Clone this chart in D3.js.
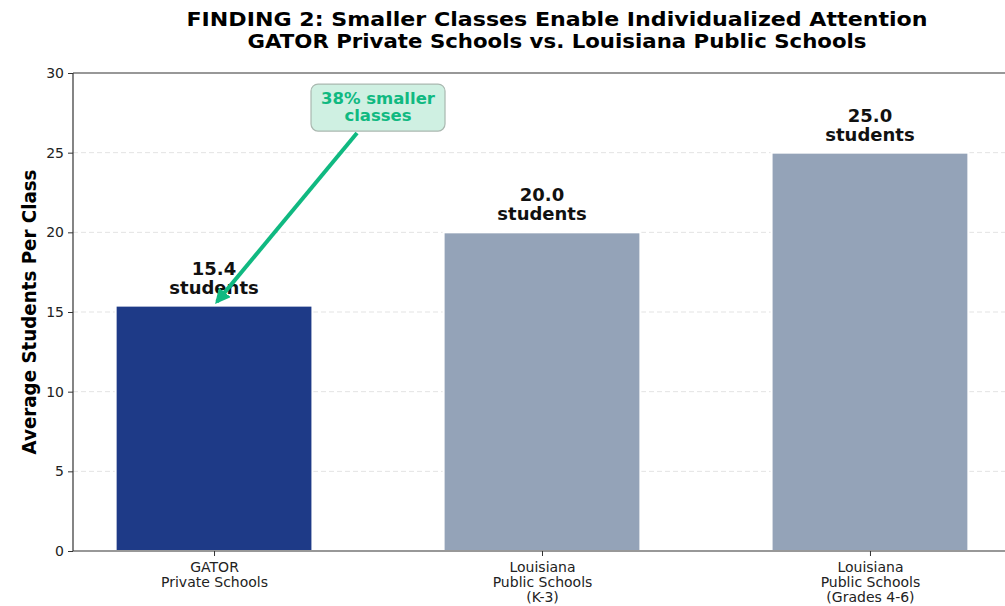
<!DOCTYPE html>
<html><head><meta charset="utf-8">
<script src="https://cdn.jsdelivr.net/npm/d3@7"></script>
<style>body{margin:0;background:#fff}svg{display:block}text{font-family:"DejaVu Sans",sans-serif}</style>
</head><body><svg id="c" width="1005" height="606"></svg>
<script>
const categories = [["GATOR","Private Schools"],["Louisiana","Public Schools","(K-3)"],["Louisiana","Public Schools","(Grades 4-6)"]];
const values = [15.4, 20.0, 25.0];
const valueLabels = ["15.4","20.0","25.0"];
const barColors = ["#1e3a87","#94a3b8","#94a3b8"];
const yTicks = [0,5,10,15,20,25,30];
const titleLines = ["FINDING 2: Smaller Classes Enable Individualized Attention","GATOR Private Schools vs. Louisiana Public Schools"];
const annotation = {text:["38% smaller","classes"], from:[0.5,27.8], to:[0,15.4]};

const svg = d3.select("#c");
const x = d3.scaleLinear().domain([-0.43, 2.43]).range([73, 1011]);
const y = d3.scaleLinear().domain([0, 30]).range([551, 73]);
const bw = 0.6;

// grid
svg.append("g").selectAll("line").data(yTicks.filter(t=>t>0&&t<30)).join("line")
  .attr("x1",73).attr("x2",1011).attr("y1",d=>y(d)).attr("y2",d=>y(d))
  .attr("stroke","#e3e3e3").attr("stroke-width",1).attr("stroke-dasharray","5,3");

// bars
svg.append("g").selectAll("rect").data(values).join("rect")
  .attr("x",(d,i)=>x(i-bw/2)).attr("width",x(bw)-x(0))
  .attr("y",d=>y(d)).attr("height",d=>y(0)-y(d))
  .attr("fill",(d,i)=>barColors[i]).attr("stroke","#fff").attr("stroke-width",2);

// axes
const ya = svg.append("g").attr("transform","translate(73,0)")
  .call(d3.axisLeft(y).tickValues(yTicks).tickSize(5).tickPadding(4));
ya.select(".domain").remove();
ya.selectAll("text").attr("font-size",14).attr("fill","#222").attr("font-family","DejaVu Sans");
ya.selectAll("line").attr("stroke","#333");

const xa = svg.append("g").attr("transform","translate(0,551)")
  .call(d3.axisBottom(x).tickValues([0,1,2]).tickSize(5).tickFormat(""));
xa.select(".domain").remove();
xa.selectAll("line").attr("stroke","#333");
xa.selectAll(".tick").each(function(d){
  const t = d3.select(this).append("text").attr("fill","#222").attr("font-size",14)
    .attr("text-anchor","middle").attr("font-family","DejaVu Sans");
  categories[d].forEach((s,k)=>t.append("tspan").attr("x",0).attr("y",21+k*15).text(s));
});

// spines
svg.append("line").attr("x1",73).attr("x2",73).attr("y1",73).attr("y2",551).attr("stroke","#333").attr("stroke-width",1.2);
svg.append("line").attr("x1",73).attr("x2",1011).attr("y1",551).attr("y2",551).attr("stroke","#333").attr("stroke-width",1.2);
svg.append("line").attr("x1",73).attr("x2",1011).attr("y1",73).attr("y2",73).attr("stroke","#333").attr("stroke-width",1.2);

// value labels
const vl = svg.append("g").selectAll("text").data(values).join("text")
  .attr("text-anchor","middle").attr("font-weight","bold").attr("font-size",18).attr("fill","#111");
vl.append("tspan").attr("x",(d,i)=>x(i)).attr("y",d=>y(d)-31).text((d,i)=>valueLabels[i]);
vl.append("tspan").attr("x",(d,i)=>x(i)).attr("y",d=>y(d)-12).text("students");

// title
titleLines.forEach((s,k)=>svg.append("text").attr("x",557).attr("y",26+k*22)
  .attr("text-anchor","middle").attr("font-weight","bold").attr("font-size",19).attr("fill","#000")
  .attr("textLength",k===0?741:619).attr("lengthAdjust","spacingAndGlyphs").text(s));

// y label
svg.append("text").attr("transform","translate(36,312) rotate(-90)").attr("text-anchor","middle")
  .attr("font-weight","bold").attr("font-size",20).attr("fill","#000")
  .attr("textLength",285).attr("lengthAdjust","spacingAndGlyphs").text("Average Students Per Class");

// annotation arrow
const defs = svg.append("defs");
defs.append("marker").attr("id","ah").attr("viewBox","0 0 10 10").attr("refX",8).attr("refY",5)
  .attr("markerWidth",3.8).attr("markerHeight",3.8).attr("orient","auto").attr("markerUnits","strokeWidth")
  .append("path").attr("d","M0,0 L10,5 L0,10 Z").attr("fill","#10b981");
const [fx,fy] = [x(annotation.from[0]), y(annotation.from[1])];
const [tx,ty] = [x(annotation.to[0])+3, y(annotation.to[1])-4];
svg.append("line").attr("x1",fx-21).attr("y1",fy+25).attr("x2",tx).attr("y2",ty)
  .attr("stroke","#10b981").attr("stroke-width",4).attr("marker-end","url(#ah)");
svg.append("rect").attr("x",fx-67).attr("y",fy-24).attr("width",134).attr("height",47).attr("rx",7)
  .attr("fill","#cff0e2").attr("stroke","#aab8b0").attr("stroke-width",1.2);
const at = svg.append("text").attr("text-anchor","middle").attr("font-weight","bold").attr("font-size",16.5).attr("fill","#10b981");
annotation.text.forEach((s,k)=>at.append("tspan").attr("x",fx).attr("y",fy-4+k*17).text(s));
</script></body></html>
